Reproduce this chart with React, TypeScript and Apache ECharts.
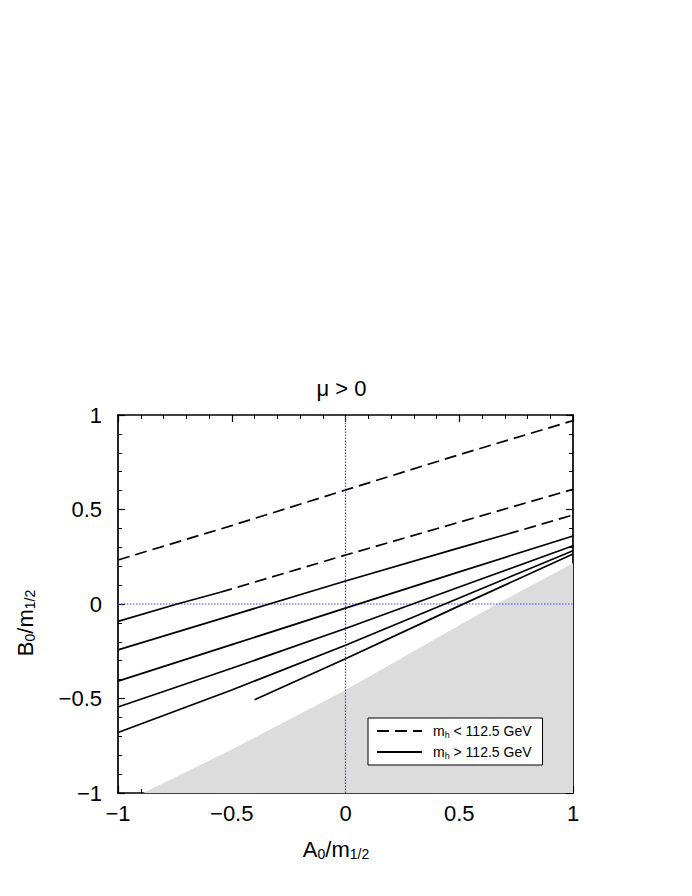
import React, { useEffect, useRef } from "react";
import * as echarts from "echarts";

// ---- data ----
const X_RANGE = [-1, 1];
const Y_RANGE = [-1, 1];
const TICK_STEP = 0.5;

const DASHED_TOP = [[-1, 0.233], [-0.5, 0.415], [0, 0.603], [0.5, 0.79], [1, 0.97]];
const CURVE_A_SOLID = [[-1, -0.092], [-0.74, 0], [-0.55, 0.062]];
const CURVE_A_DASHED = [[-0.55, 0.062], [0, 0.259], [0.5, 0.433], [1, 0.607]];
const CURVE_B_SOLID = [[-1, -0.243], [-0.5, -0.06], [0, 0.122], [0.5, 0.297], [0.71, 0.369]];
const CURVE_B_DASHED = [[0.71, 0.369], [1, 0.471]];
const CURVE_C = [[-1, -0.408], [-0.5, -0.215], [0, -0.022], [0.5, 0.17], [1, 0.36]];
const CURVE_D = [[-1, -0.545], [-0.5, -0.34], [0, -0.13], [0.5, 0.09], [1, 0.308]];
const CURVE_E = [[-1, -0.68], [-0.5, -0.455], [0, -0.218], [0.5, 0.032], [1, 0.282]];
const CURVE_F = [[-0.4, -0.507], [0, -0.29], [0.5, -0.01], [1, 0.265]];
const EXCLUDED_EDGE = [[-0.889, -1], [-0.5, -0.77], [0, -0.455], [0.665, 0], [1, 0.215]];
const ZERO_A = [[0, -1], [0, 1]];
const ZERO_B = [[-1, 0], [1, 0]];

const LEGEND_LT = "lt";
const LEGEND_GT = "gt";
const LEGEND_TEXT: Record<string, string> = {
  lt: "{m|m}{s|h}{m| < 112.5 GeV}",
  gt: "{m|m}{s|h}{m| > 112.5 GeV}",
};
const TITLE = "μ > 0";

const FONT = "'Liberation Sans', Arial, Helvetica, sans-serif";
const DASH = [12, 6];

function curve(name: string, data: number[][], dashed: boolean) {
  return {
    type: "line",
    name,
    data,
    showSymbol: false,
    symbol: "none",
    z: 4,
    silent: true,
    lineStyle: { color: "#000", width: 1.7, type: dashed ? DASH : "solid" },
    itemStyle: { color: "#000" },
  };
}

function guide(data: number[][]) {
  return {
    type: "line",
    name: "zero",
    data,
    showSymbol: false,
    symbol: "none",
    z: 3,
    silent: true,
    lineStyle: { color: "#4040ff", width: 1.2, type: [1.5, 1.5] },
  };
}

function fmt(v: number) {
  return v < 0 ? "\u2212" + String(-v) : String(v);
}

export default function App() {
  const ref = useRef<HTMLDivElement>(null);
  useEffect(() => {
    if (!ref.current) return;
    const chart = echarts.init(ref.current, null, { renderer: "svg" });
    const baseAxis = {
      type: "value",
      min: X_RANGE[0],
      max: X_RANGE[1],
      interval: TICK_STEP,
      axisLine: { show: true, onZero: false, lineStyle: { color: "#000", width: 1.7 } },
      axisTick: { show: true, inside: true, length: 7, lineStyle: { color: "#000", width: 1.2 } },
      minorTick: { show: true, splitNumber: 5, length: 4, lineStyle: { color: "#000", width: 1 } },
      splitLine: { show: false },
      minorSplitLine: { show: false },
    };
    const label = { color: "#000", fontSize: 22, fontFamily: FONT, formatter: fmt };
    const subRich = {
      m: { fontSize: 22, lineHeight: 24, fontFamily: FONT, color: "#000" },
      s: { fontSize: 14, lineHeight: 12, verticalAlign: "bottom", fontFamily: FONT, color: "#000" },
    };
    chart.setOption({
      animation: false,
      backgroundColor: "#fff",
      grid: { left: 118, top: 415, width: 455, height: 378, containLabel: false },
      xAxis: [
        { ...baseAxis, position: "bottom", axisLabel: { ...label, margin: 9 } },
        { ...baseAxis, position: "top", axisLabel: { show: false } },
      ],
      yAxis: [
        { ...baseAxis, min: Y_RANGE[0], max: Y_RANGE[1], position: "left", axisLabel: { ...label, margin: 16 } },
        { ...baseAxis, min: Y_RANGE[0], max: Y_RANGE[1], position: "right", axisLabel: { show: false } },
      ],
      legend: {
        data: [LEGEND_LT, LEGEND_GT],
        orient: "vertical",
        left: 368,
        top: 718,
        selectedMode: false,
        backgroundColor: "#fff",
        borderColor: "#000",
        borderWidth: 1,
        borderRadius: 0,
        padding: [6, 11, 5, 8],
        itemWidth: 45,
        itemHeight: 14,
        itemGap: 6,
        itemStyle: { opacity: 0, borderWidth: 0 },
        formatter: (n: string) => LEGEND_TEXT[n],
        textStyle: {
          padding: [0, 0, 0, 6],
          rich: {
            m: { fontSize: 14, lineHeight: 16, fontFamily: FONT, color: "#000" },
            s: { fontSize: 9, lineHeight: 8, verticalAlign: "bottom", fontFamily: FONT, color: "#000" },
          },
        },
      },
      graphic: [
        {
          type: "text",
          x: 341.5,
          y: 388,
          style: { text: TITLE, font: `22px ${FONT}`, fill: "#000", align: "center", verticalAlign: "middle" },
        },
        {
          type: "text",
          x: 336,
          y: 849,
          style: { text: "{m|A}{s|0}{m|/m}{s|1/2}", rich: subRich, align: "center", verticalAlign: "middle" },
        },
        {
          type: "text",
          x: 25,
          y: 623,
          rotation: Math.PI / 2,
          style: { text: "{m|B}{s|0}{m|/m}{s|1/2}", rich: subRich, align: "center", verticalAlign: "middle" },
        },
      ],
      series: [
        {
          type: "line",
          name: "excluded",
          data: EXCLUDED_EDGE,
          showSymbol: false,
          symbol: "none",
          silent: true,
          z: 1,
          lineStyle: { width: 0, color: "#dcdcdc" },
          areaStyle: { color: "#dcdcdc", origin: "start", opacity: 1 },
        },
        guide(ZERO_A),
        guide(ZERO_B),
        curve(LEGEND_LT, DASHED_TOP, true),
        curve(LEGEND_GT, CURVE_A_SOLID, false),
        curve(LEGEND_LT, CURVE_A_DASHED, true),
        curve(LEGEND_GT, CURVE_B_SOLID, false),
        curve(LEGEND_LT, CURVE_B_DASHED, true),
        curve(LEGEND_GT, CURVE_C, false),
        curve(LEGEND_GT, CURVE_D, false),
        curve(LEGEND_GT, CURVE_E, false),
        curve(LEGEND_GT, CURVE_F, false),
      ],
    });
    return () => chart.dispose();
  }, []);
  return (
    <div
      ref={ref}
      style={{ position: "absolute", left: 0, top: 0, width: 692, height: 896, background: "#fff" }}
    />
  );
}
